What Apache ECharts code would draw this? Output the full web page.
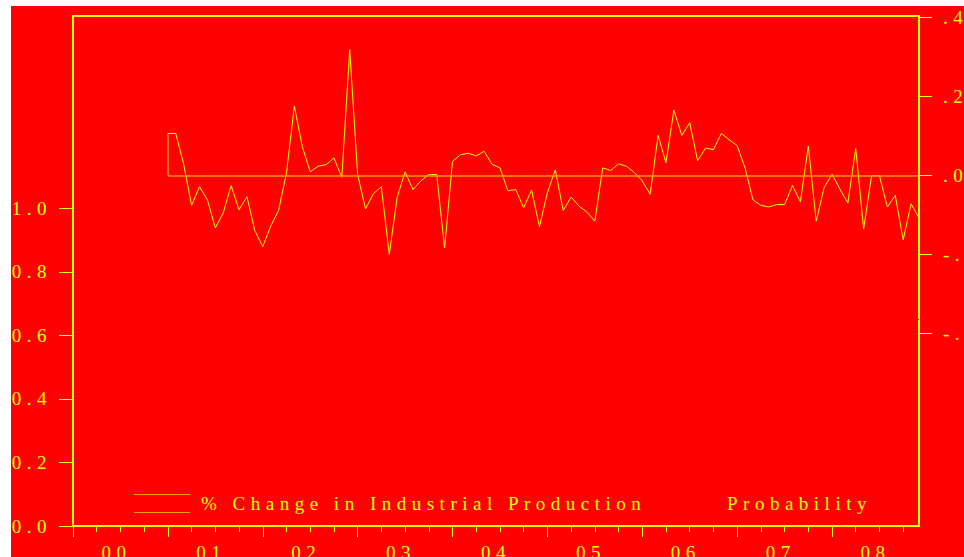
<!DOCTYPE html>
<html><head><meta charset="utf-8">
<script src="https://cdn.jsdelivr.net/npm/echarts@6/dist/echarts.min.js"></script>
<style>
html,body{margin:0;padding:0;background:#fff;width:964px;height:557px;overflow:hidden}
#chart{position:absolute;left:11px;top:6px;width:953px;height:551px;background:#ff0000;overflow:hidden}
#chart text{letter-spacing:5.5px}
</style></head><body><div id="chart"></div>
<script>
// x values are months counted from January 2000
const yearLabels = ['00','01','02','03','04','05','06','07','08'];
const xMaxMonth = 107; // December 2008
const ipStartMonth = 12; // January 2001
const ipName = '% Change in Industrial Production';
const probName = 'Probability';
const ipChange = [
  0.106, 0.106, 0.028, -0.076, -0.029, -0.062, -0.133, -0.095, -0.026, -0.087, -0.054, -0.140,
  -0.180, -0.129, -0.089, 0.006, 0.175, 0.073, 0.009, 0.023, 0.027, 0.044, -0.005, 0.318,
  0.002, -0.085, -0.046, -0.029, -0.200, -0.056, 0.009, -0.036, -0.014, 0.002, 0.002, -0.184,
  0.035, 0.052, 0.056, 0.049, 0.061, 0.028, 0.019, -0.039, -0.036, -0.082, -0.037, -0.130,
  -0.044, 0.014, -0.089, -0.055, -0.078, -0.093, -0.116, 0.019, 0.012, 0.029, 0.023, 0.007,
  -0.014, -0.048, 0.101, 0.032, 0.165, 0.101, 0.133, 0.037, 0.069, 0.065, 0.106, 0.090,
  0.075, 0.019, -0.062, -0.076, -0.080, -0.074, -0.074, -0.026, -0.067, 0.074, -0.116, -0.031,
  0.003, -0.035, -0.070, 0.068, -0.136, -0.001, -0.001, -0.080, -0.051, -0.163, -0.072, -0.108
];
const probMonths = [23, 25, 26, 28, 29, 39, 49, 55, 60, 62, 65, 68, 70, 71, 73, 75, 77, 82, 83, 107];
const probValues = [0.84, 0.71, 0.77, 0.73, 0.68, 0.63, 0.17, 0.41, 0.45, 0.40, 0.39, 0.39, 0.37, 0.40, 0.43, 0.39, 0.44, 0.53, 0.56, 0.65];
const leftTicks = [0, 0.2, 0.4, 0.6, 0.8, 1.0];
const rightTicks = [-0.4, -0.2, 0, 0.2, 0.4];
const rightTickLabels = ['-.4', '-.2', '.0', '.2', '.4'];

const YEL = '#FFFF00', ORG = '#FF9900', RED = '#FF0000';
const FONT = 'Liberation Serif';
const yearTicks = yearLabels.map((_, i) => i * 12);
const labelPos = yearLabels.map((_, i) => i * 12 + 5.5);
const quarterTicks = [];
for (let m = 3; m <= xMaxMonth; m += 3) if (m % 12 !== 0) quarterTicks.push(m);

const chart = echarts.init(document.getElementById('chart'), null, {renderer: 'svg'});
chart.setOption({
  animation: false,
  backgroundColor: RED,
  grid: {left: 62, right: 45, top: 10, bottom: 31, outerBoundsMode: 'none', containLabel: false,
         show: true, borderColor: YEL, borderWidth: 2, backgroundColor: 'transparent'},
  legend: [
    {left: 123, top: 488, padding: 0, itemWidth: 56, itemHeight: 19, selectedMode: false,
     textStyle: {color: YEL, fontFamily: FONT, fontSize: 19, padding: [0, 0, 0, 6]},
     data: [{name: ipName, icon: 'path://M0,0H56V1H0Z M0,18H56V19H0Z', itemStyle: {color: ORG, borderWidth: 0}}]},
    {left: 649, top: 488, padding: 0, itemWidth: 56, itemHeight: 19, selectedMode: false,
     textStyle: {color: YEL, fontFamily: FONT, fontSize: 19, padding: [0, 0, 0, 6]},
     data: [{name: probName, icon: 'path://M0,0H56V1H0Z M0,18H56V19H0Z', itemStyle: {color: RED, borderWidth: 0}}]}
  ],
  xAxis: [
    {type: 'value', min: 0, max: xMaxMonth, position: 'bottom',
     axisLine: {show: true, onZero: false, lineStyle: {color: YEL, width: 2}},
     axisTick: {show: true, customValues: yearTicks, length: 11, lineStyle: {color: YEL, width: 1}},
     axisLabel: {show: true, customValues: labelPos, margin: 17, color: YEL, fontFamily: FONT, fontSize: 19,
       formatter: v => yearLabels[Math.floor(v / 12)]},
     splitLine: {show: false}},
    {type: 'value', min: 0, max: xMaxMonth, position: 'bottom',
     axisLine: {show: false, onZero: false},
     axisTick: {show: true, customValues: quarterTicks, length: 6, lineStyle: {color: YEL, width: 1}},
     axisLabel: {show: false}, splitLine: {show: false}}
  ],
  yAxis: [
    {type: 'value', min: 0, max: 1.605, position: 'left',
     axisLine: {show: true, onZero: false, lineStyle: {color: YEL, width: 2}},
     axisTick: {show: true, customValues: leftTicks, length: 14, lineStyle: {color: YEL, width: 1}},
     axisLabel: {show: true, customValues: leftTicks, margin: 21, color: YEL, fontFamily: FONT, fontSize: 19,
       padding: [0, 0, 7, 0], formatter: v => v.toFixed(1)},
     splitLine: {show: false}},
    {type: 'value', min: -0.887, max: 0.403, position: 'right',
     axisLine: {show: true, onZero: false, lineStyle: {color: YEL, width: 2}},
     axisTick: {show: true, customValues: rightTicks, length: 13, lineStyle: {color: YEL, width: 1}},
     axisLabel: {show: true, customValues: rightTicks, margin: 24, color: YEL, fontFamily: FONT, fontSize: 19,
       padding: [0, 0, 7, 0],
       formatter: v => rightTickLabels[rightTicks.findIndex(t => Math.abs(t - v) < 1e-6)]},
     splitLine: {show: false}}
  ],
  series: [
    {name: ipName, type: 'line', xAxisIndex: 0, yAxisIndex: 1, symbol: 'none', z: 3,
     data: ipChange.map((v, i) => [ipStartMonth + i, v]),
     lineStyle: {color: YEL, width: 1}, itemStyle: {color: ORG},
     markLine: {silent: true, symbol: 'none', label: {show: false}, lineStyle: {color: ORG, width: 1.5, type: 'solid'},
       data: [
         [{coord: [ipStartMonth, 0]}, {coord: [xMaxMonth, 0]}],
         [{coord: [ipStartMonth, 0]}, {coord: [ipStartMonth, ipChange[0]]}]
       ]}},
    {name: probName, type: 'line', xAxisIndex: 0, yAxisIndex: 0, symbol: 'none', z: 2,
     data: probMonths.map((m, i) => [m, probValues[i]]),
     lineStyle: {color: RED, width: 1}, itemStyle: {color: RED}}
  ]
});
</script></body></html>
